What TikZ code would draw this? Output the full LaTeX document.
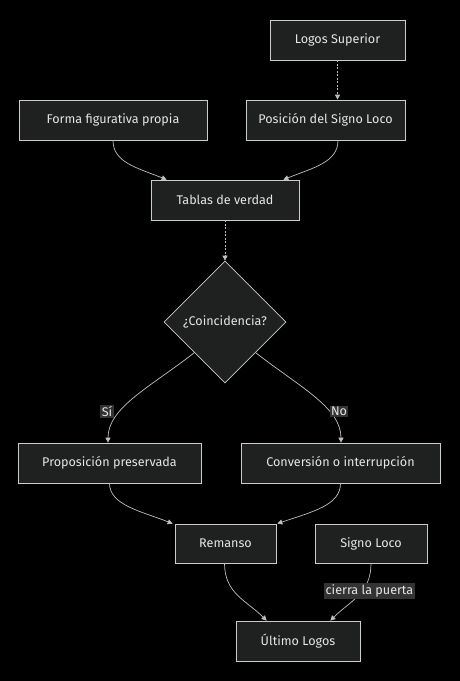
\documentclass[tikz,border=0pt]{standalone}
\usepackage{fontspec}
\setmainfont{Fira Sans}
\usetikzlibrary{shapes.geometric,arrows.meta,calc}
\definecolor{nodefill}{HTML}{1F2020}
\definecolor{nodeline}{HTML}{CCCCCC}
\definecolor{txt}{HTML}{E6E6E6}
\definecolor{edgecol}{HTML}{C0C0C0}
\definecolor{lblfill}{HTML}{333333}
\tikzset{
  box/.style={draw=nodeline, fill=nodefill, text=txt, line width=0.7pt,
    minimum height=40pt, inner sep=0pt, font=\fontsize{12.6}{14}\selectfont},
  decision/.style={diamond, draw=nodeline, fill=nodefill, text=txt, line width=0.7pt,
    minimum width=122pt, minimum height=122pt, inner sep=0pt, font=\fontsize{12.6}{14}\selectfont},
  edge/.style={draw=edgecol, line width=0.7pt, -{Triangle[length=5pt,width=5pt]}},
  dots/.style={edge, dash pattern=on 2pt off 1.5pt},
  lbl/.style={fill=lblfill, text=txt, inner sep=1.5pt, font=\fontsize{12.6}{14}\selectfont}
}
\begin{document}
\begin{tikzpicture}
\fill[black] (0,0) rectangle (460pt,-681pt);
\useasboundingbox (0,0) rectangle (460pt,-681pt);

\node[box, minimum width=135pt] (logos) at (337.5pt,-40pt) {Logos Superior};
\node[box, minimum width=188pt] (forma) at (113pt,-120pt) {Forma figurativa propia};
\node[box, minimum width=159pt] (posicion) at (325.5pt,-120pt) {Posición del Signo Loco};
\node[box, minimum width=148pt] (tablas) at (225pt,-200pt) {Tablas de verdad};
\node[decision] (coinc) at (225pt,-322pt) {¿Coincidencia?};
\node[box, minimum width=183pt] (prop) at (109.5pt,-463pt) {Proposición preservada};
\node[box, minimum width=199pt] (conv) at (340.5pt,-463pt) {Conversión o interrupción};
\node[box, minimum width=101pt, minimum height=39pt] (remanso) at (225.5pt,-543.5pt) {Remanso};
\node[box, minimum width=112pt, minimum height=39pt] (signo) at (371pt,-543.5pt) {Signo Loco};
\node[box, minimum width=124pt] (ultimo) at (298pt,-641pt) {Último Logos};

\coordinate (tabIn1) at ($(tablas.north west)+(16pt,0)$);
\coordinate (tabIn2) at ($(tablas.north east)+(-16pt,0)$);
\coordinate (remIn1) at ($(remanso.north west)+(-2pt,0)$);
\coordinate (remIn2) at ($(remanso.north east)+(1pt,0)$);
\coordinate (ultIn1) at ($(ultimo.north west)+(31pt,0)$);
\coordinate (ultIn2) at ($(ultimo.north east)+(-30pt,0)$);
\coordinate (posOut) at ($(posicion.south)+(12.5pt,0)$);
\coordinate (propIn) at ($(prop.north)+(-1.5pt,0)$);
\coordinate (convIn) at ($(conv.north)+(0.5pt,0)$);
\coordinate (remOut) at ($(remanso.south)+(-1pt,0)$);

\draw[dots] (logos.south) -- (logos.south |- posicion.north);
\draw[edge] (forma.south) .. controls +(0,-22pt) and +(-30pt,12pt) .. (tabIn1);
\draw[edge] (posOut) .. controls +(0,-22pt) and +(30pt,12pt) .. (tabIn2);
\draw[dots] (tablas.south) -- (coinc.north);
\draw[edge] (coinc.south west) .. controls +(-45pt,-35pt) and +(0,35pt) .. (propIn);
\draw[edge] (coinc.south east) .. controls +(45pt,-35pt) and +(0,35pt) .. (convIn);
\draw[edge] (prop.south) .. controls +(0,-22pt) and +(-30pt,12pt) .. (remIn1);
\draw[edge] (conv.south) .. controls +(0,-22pt) and +(35pt,12pt) .. (remIn2);
\draw[edge] (remOut) .. controls +(0,-30pt) and +(-20pt,20pt) .. (ultIn1);
\draw[edge] (signo.south) .. controls +(0,-30pt) and +(20pt,20pt) .. (ultIn2);

\node[lbl] (si) at (107pt,-411.5pt) {Sí};
\node[lbl] (no) at (339pt,-411.5pt) {No};
\node[lbl] (cierra) at (369.5pt,-591pt) {cierra la puerta};
\end{tikzpicture}
\end{document}
